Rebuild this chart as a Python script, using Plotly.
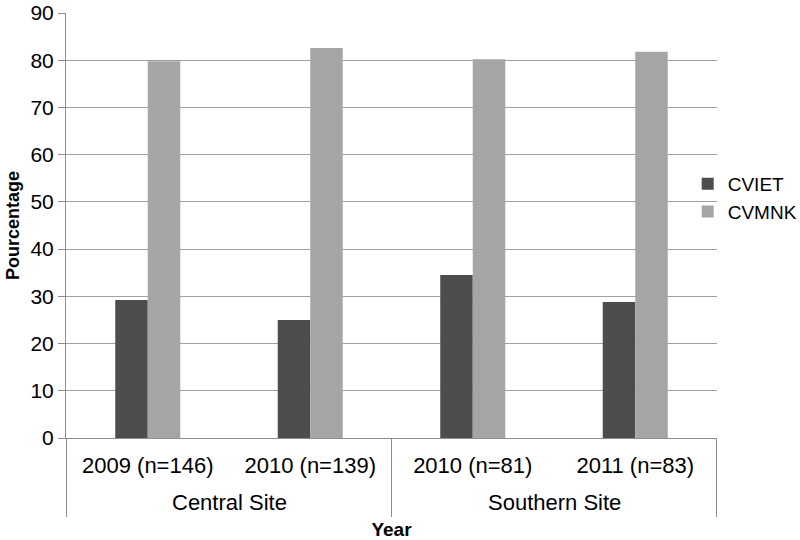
import plotly.graph_objects as go

sites = ["Central Site", "Central Site", "Southern Site", "Southern Site"]
years = ["2009 (n=146)", "2010 (n=139)", "2010 (n=81)", "2011 (n=83)"]
cviet = [29.2, 25.0, 34.5, 28.8]
cvmnk = [79.8, 82.6, 80.2, 81.8]

FONT = "Liberation Sans"
GRID = "#a0a0a0"
AXIS = "#8c8c8c"

W, H = 800, 540
M = dict(l=66, r=83, t=13, b=102)
PLOT_H = float(H - M["t"] - M["b"])

fig = go.Figure()
fig.add_trace(go.Bar(name="CVIET", x=years, y=cviet,
                     marker=dict(color="#4d4d4d", line=dict(width=0))))
fig.add_trace(go.Bar(name="CVMNK", x=years, y=cvmnk,
                     marker=dict(color="#a5a5a5", line=dict(width=0))))

# group labels and dividers for the site level of the category axis
groups = []
for i, s in enumerate(sites):
    if not groups or groups[-1][0] != s:
        groups.append([s, i, i])
    else:
        groups[-1][2] = i

annotations = []
shapes = []
for s, a, b in groups:
    annotations.append(dict(text=s, x=(a + b) / 2, xref="x", y=-65 / PLOT_H, yref="paper",
                            xanchor="center", yanchor="middle", showarrow=False,
                            font=dict(family=FONT, size=22, color="black")))
bounds = [groups[0][1] - 0.5] + [g[2] + 0.5 for g in groups]
for xb in bounds:
    shapes.append(dict(type="line", xref="x", yref="paper", x0=xb, x1=xb,
                       y0=0, y1=-79 / PLOT_H, line=dict(color=AXIS, width=1)))

fig.update_layout(
    width=W, height=H,
    margin=dict(**M, autoexpand=False),
    paper_bgcolor="white", plot_bgcolor="white",
    barmode="group", bargap=0.6, bargroupgap=0,
    font=dict(family=FONT, size=22, color="black"),
    legend=dict(x=0.955, xanchor="left", y=0.565, yanchor="middle",
                font=dict(family=FONT, size=19, color="black"),
                bgcolor="rgba(0,0,0,0)", tracegroupgap=0),
    xaxis=dict(type="category", categoryorder="array", categoryarray=years,
               showline=True, linecolor=AXIS, linewidth=1,
               ticks="", automargin=False, ticklabelstandoff=8,
               tickfont=dict(family=FONT, size=22, color="black"),
               title=dict(text="<b>Year</b>", font=dict(family=FONT, size=19, color="black"),
                          standoff=45)),
    yaxis=dict(range=[0, 90], tick0=0, dtick=10, showgrid=True, gridcolor=GRID, gridwidth=1,
               showline=True, linecolor=AXIS, linewidth=1, ticklabeloverflow="allow",
               ticks="outside", ticklen=7, tickcolor=AXIS, automargin=False,
               tickfont=dict(family=FONT, size=21, color="black"),
               zeroline=False,
               title=dict(text="<b>Pourcentage</b>", font=dict(family=FONT, size=18, color="black"),
                          standoff=6)),
    annotations=annotations,
    shapes=shapes,
)

fig.write_html("out.html", config={"displayModeBar": False},
               post_script="document.body.style.margin='0';")
